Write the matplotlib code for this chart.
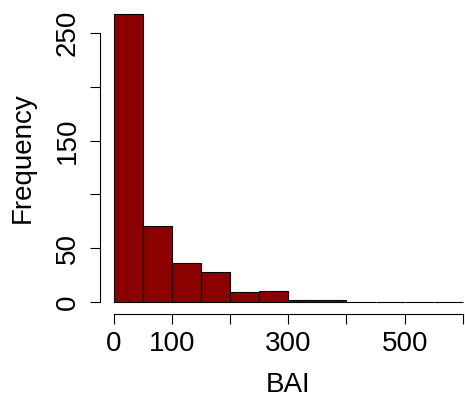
import matplotlib
matplotlib.use('Agg')
import matplotlib.pyplot as plt

# histograma de BAI (bins de 50)
bin_edges = [0, 50, 100, 150, 200, 250, 300, 350, 400, 450, 500, 550, 600]
counts = [268, 71, 36, 28, 9, 10, 2, 2, 0, 0, 0, 0]
x_ticks = [0, 100, 200, 300, 400, 500, 600]
x_labels = ['0', '100', '', '300', '', '500', '']
y_ticks = [0, 50, 100, 150, 200, 250]
y_labels = ['0', '50', '', '150', '', '250']

plt.rcParams['font.family'] = ['Liberation Sans', 'DejaVu Sans']

fig = plt.figure(figsize=(4.65, 4.07), dpi=100)
# area do grafico em pixels (estilo R, passa um pouco da borda direita)
ax = fig.add_axes([100 / 465, 1 - 313.5 / 407, 376.7 / 465, 311.1 / 407])

ax.bar(bin_edges[:-1], counts, width=50, align='edge',
       color='#8b0000', edgecolor='black', linewidth=0.8)

ax.set_xlim(-24, 624)
ax.set_ylim(-10.72, 278.72)

for s in ['top', 'right']:
    ax.spines[s].set_visible(False)
ax.spines['bottom'].set_bounds(0, 600)
ax.spines['left'].set_bounds(0, 250)

ax.set_xticks(x_ticks)
ax.set_xticklabels(x_labels)
ax.set_yticks(y_ticks)
ax.set_yticklabels(y_labels, rotation=90, va='center')
ax.tick_params(direction='out', length=7.5, width=0.8, labelsize=20)
ax.tick_params(axis='x', pad=5)
ax.tick_params(axis='y', pad=6.5)

ax.set_xlabel('BAI', fontsize=20)
ax.set_ylabel('Frequency', fontsize=20)
ax.xaxis.set_label_coords((288 - 100) / 376.7, -(372 - 313.5) / 311.1)
ax.yaxis.set_label_coords(-(100 - 36) / 376.7, (313.5 - 158) / 311.1)

fig.savefig('out.png', dpi=100)
